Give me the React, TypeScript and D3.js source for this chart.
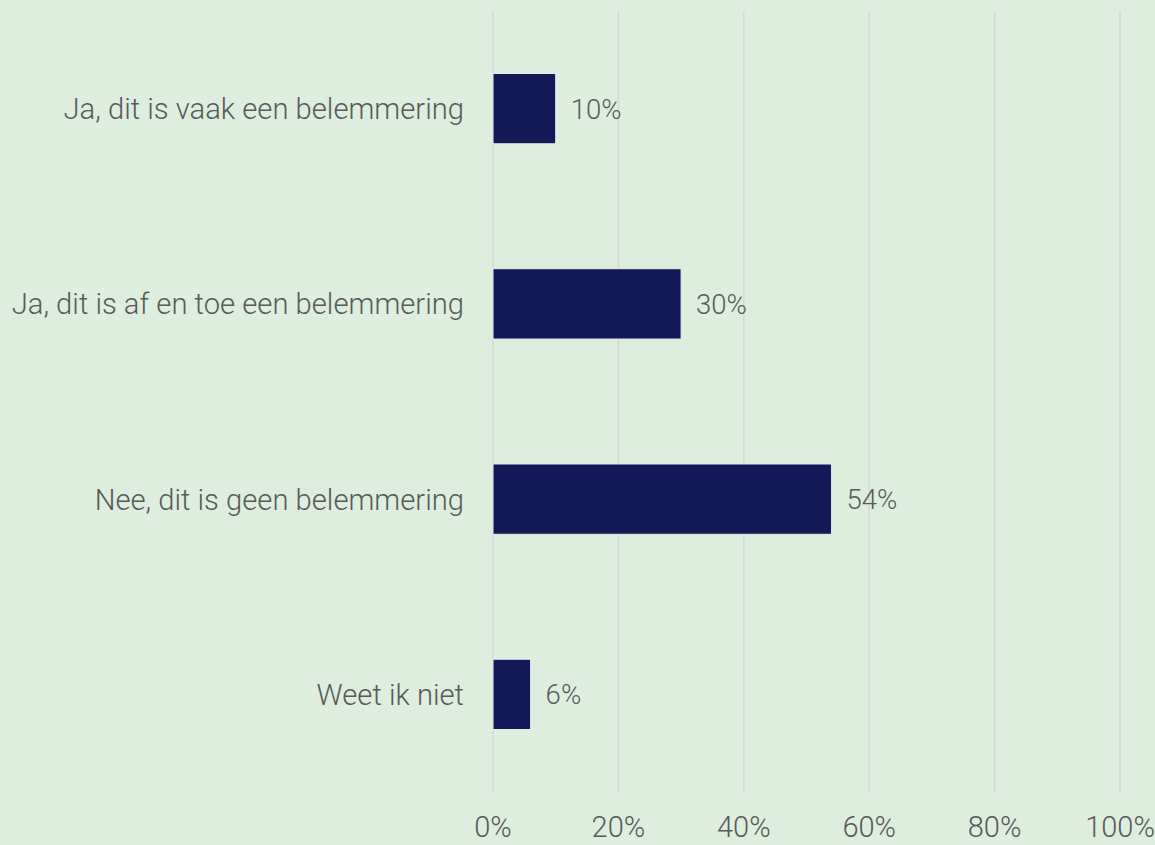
import React from "react";
import * as d3 from "d3";

const categories = [
  "Ja, dit is vaak een belemmering",
  "Ja, dit is af en toe een belemmering",
  "Nee, dit is geen belemmering",
  "Weet ik niet",
];
const values = [10, 30, 54, 6];
const xTicks = [0, 20, 40, 60, 80, 100];

const W = 1155;
const H = 845;
const M = { top: 11, right: 35, bottom: 53, left: 493 };
const FONT = "Roboto, 'Open Sans', sans-serif";
const TEXT = "#595959";

export default function App() {
  const x = d3.scaleLinear().domain([0, 100]).range([M.left, W - M.right]);
  const y = d3
    .scaleBand<string>()
    .domain(categories)
    .range([M.top, H - M.bottom])
    .paddingInner(0.64)
    .paddingOuter(0.32);

  return (
    <div style={{ position: "absolute", left: 0, top: 0 }}>
      <svg width={W} height={H} style={{ display: "block", background: "#ddeedf" }}>
        <rect x={0} y={0} width={W} height={H} fill="#ddeedf" />
        {xTicks.map((t) => (
          <g key={t}>
            <line
              x1={x(t)}
              x2={x(t)}
              y1={M.top}
              y2={H - M.bottom}
              stroke="#d3d8d3"
              strokeWidth={1.5}
            />
            <text
              x={x(t)}
              y={837}
              textAnchor="middle"
              fontFamily={FONT}
              fontWeight={300}
              fontSize={29}
              fill={TEXT}
            >
              {t}%
            </text>
          </g>
        ))}
        {categories.map((c, i) => {
          const yy = y(c)!;
          const bw = y.bandwidth();
          return (
            <g key={c}>
              <rect
                x={x(0)}
                y={yy}
                width={x(values[i]) - x(0)}
                height={bw}
                fill="#111a56"
                stroke="#e8eef0"
                strokeWidth={1}
              />
              <text
                x={464}
                y={yy + bw / 2}
                dy="0.36em"
                textAnchor="end"
                fontFamily={FONT}
                fontWeight={300}
                fontSize={29.2}
                fill={TEXT}
              >
                {c}
              </text>
              <text
                x={x(values[i]) + 15}
                y={yy + bw / 2}
                dy="0.36em"
                fontFamily={FONT}
                fontWeight={300}
                fontSize={27.5}
                fill={TEXT}
              >
                {values[i]}%
              </text>
            </g>
          );
        })}
      </svg>
    </div>
  );
}
